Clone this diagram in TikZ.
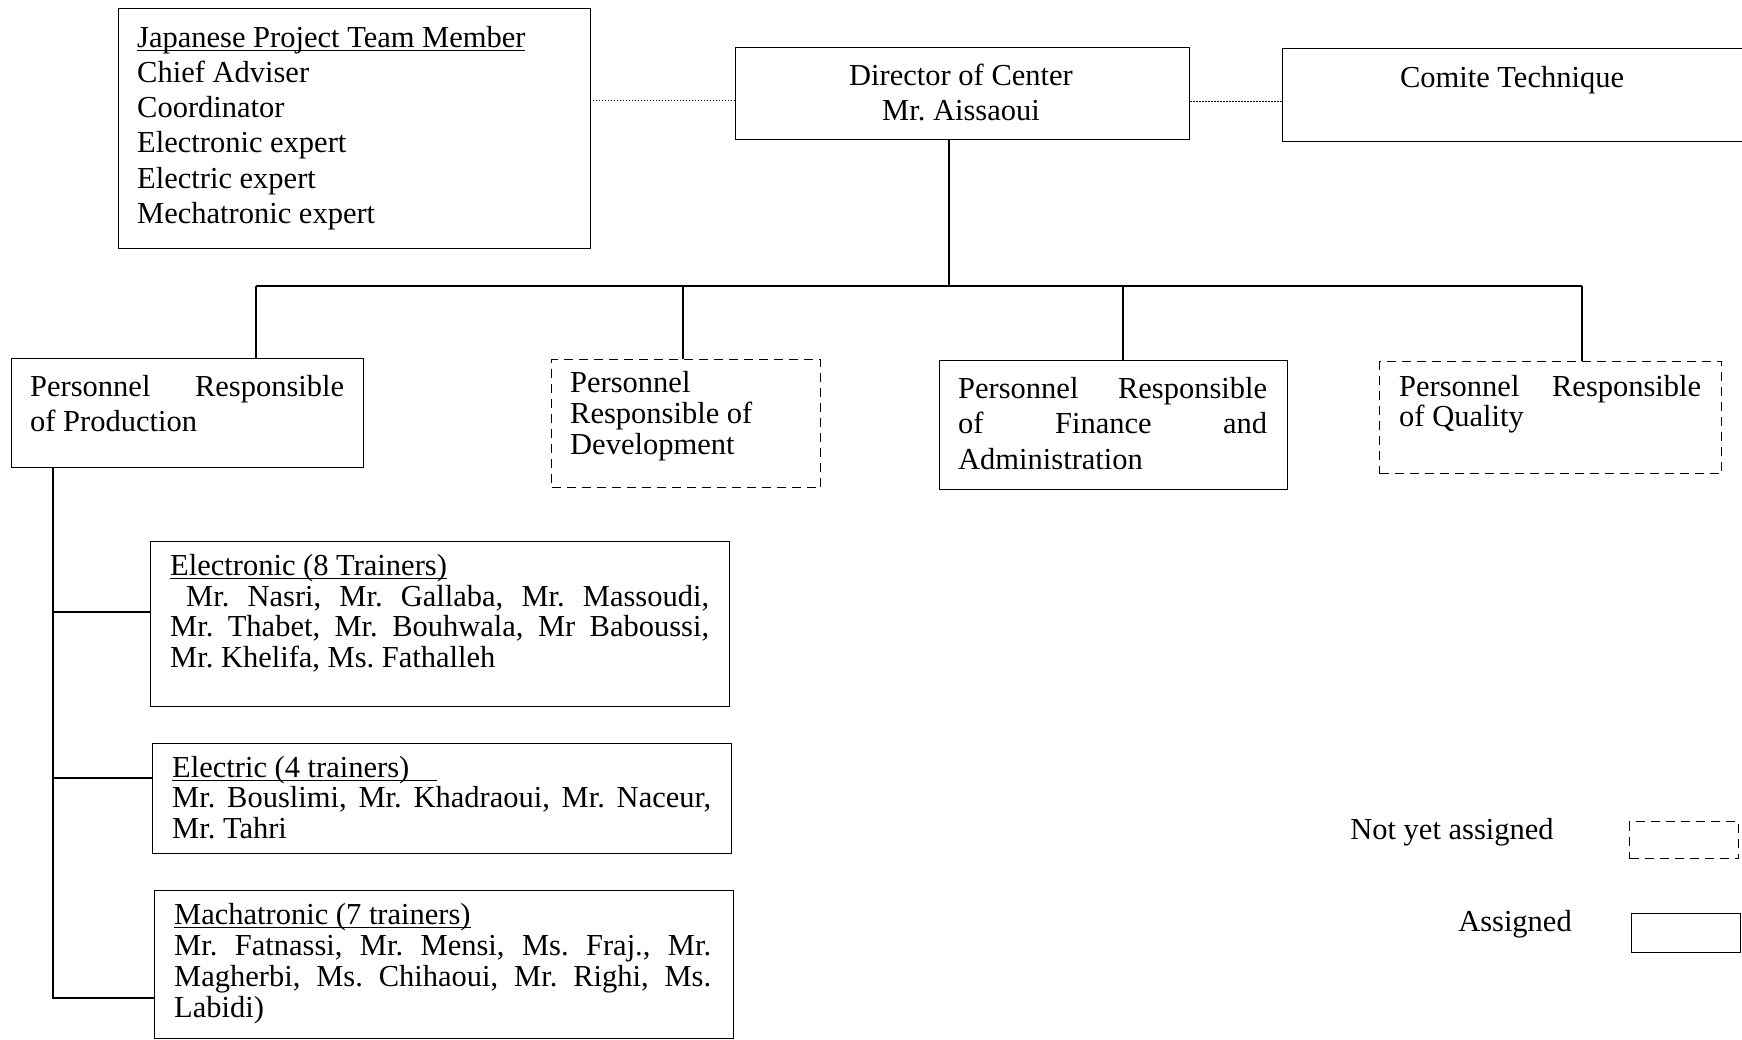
\documentclass[tikz,border=0pt]{standalone}
\usepackage{fontspec}
\setmainfont{Liberation Serif}
\frenchspacing
\newcommand\fsz[1]{\fontsize{30.5}{#1}\selectfont}
\newcommand\jl[2]{\makebox[#1pt][s]{#2}}
\newcommand\ulx[1]{\setbox0\hbox{#1}\rlap{\rule[-3.5pt]{\wd0}{1.2pt}}\box0}
\begin{document}
\begin{tikzpicture}[x=1pt,y=-1pt,
  box/.style={draw, line width=1.3pt, rectangle, inner sep=0pt, anchor=north west},
  dbox/.style={box, dash pattern=on 9pt off 6pt},
  txt/.style={inner sep=0pt, anchor=north west, align=left},
  link/.style={line width=1.3pt},
  dotlink/.style={line width=1.3pt, dash pattern=on 1.5pt off 1.5pt}]
\useasboundingbox (0,0) rectangle (1742,1040);

% boxes
\node[box, minimum width=472pt, minimum height=240pt] (jpn) at (118,8) {};
\node[box, minimum width=454pt, minimum height=92pt] (dir) at (735,47) {};
\node[box, minimum width=470pt, minimum height=93pt] (com) at (1282,48) {};
\node[box, minimum width=352pt, minimum height=109pt] (prod) at (11,358) {};
\node[dbox, minimum width=269pt, minimum height=128pt] (dev) at (551,359) {};
\node[box, minimum width=348pt, minimum height=129pt] (fin) at (939,360) {};
\node[dbox, minimum width=342pt, minimum height=112pt] (qual) at (1379,361) {};
\node[box, minimum width=579pt, minimum height=165pt] (etr) at (150,541) {};
\node[box, minimum width=579pt, minimum height=110pt] (elc) at (152,743) {};
\node[box, minimum width=579pt, minimum height=148pt] (mch) at (154,890) {};
\node[dbox, minimum width=109pt, minimum height=37pt] (leg1) at (1629,821) {};
\node[box, minimum width=109pt, minimum height=39pt] (leg2) at (1631,913) {};

% texts
\node[txt, font=\fsz{35.2}] (tjpn) at (137,26) {\ulx{Japanese Project Team Member}\\Chief Adviser\\Coordinator\\Electronic expert\\Electric expert\\Mechatronic expert};
\node[inner sep=0pt, anchor=north, align=center, font=\fsz{35}] (tdir) at (961,64) {Director of Center\\Mr. Aissaoui};
\node[inner sep=0pt, anchor=north, font=\fsz{35}] (tcom) at (1512,66) {Comite Technique};
\node[txt, font=\fsz{35}] (tprod) at (30,375) {\jl{314}{Personnel Responsible}\\of Production};
\node[txt, font=\fsz{31}] (tdev) at (570,371) {Personnel\\Responsible of\\Development};
\node[txt, font=\fsz{35.5}] (tfin) at (958,377) {\jl{309}{Personnel Responsible}\\\jl{309}{of Finance and}\\Administration};
\node[txt, font=\fsz{30}] (tqual) at (1399,375) {\jl{302}{Personnel Responsible}\\of Quality};
\node[txt, font=\fsz{30.7}] (tetr) at (170,554) {\ulx{Electronic (8 Trainers)}\\\hspace*{16pt}\jl{523}{Mr. Nasri, Mr. Gallaba, Mr. Massoudi,}\\\jl{539}{Mr. Thabet, Mr. Bouhwala, Mr Baboussi,}\\Mr. Khelifa, Ms. Fathalleh};
\node[txt, font=\fsz{30.5}] (telc) at (172,756) {\ulx{Electric (4 trainers)\hspace*{28pt}}\\\jl{539}{Mr. Bouslimi, Mr. Khadraoui, Mr. Naceur,}\\Mr. Tahri};
\node[txt, font=\fsz{31}] (tmch) at (174,903) {\ulx{Machatronic (7 trainers)}\\\jl{537}{Mr. Fatnassi, Mr. Mensi, Ms. Fraj., Mr.}\\\jl{537}{Magherbi, Ms. Chihaoui, Mr. Righi, Ms.}\\Labidi)};
\node[inner sep=0pt, anchor=base, font=\fsz{35}] (tleg1) at (1452,839) {Not yet assigned};
\node[inner sep=0pt, anchor=base, font=\fsz{35}] (tleg2) at (1515,931) {Assigned};

% dotted links
\draw[dotlink] ([yshift=-7pt]dir.west) -- ([yshift=-7pt]dir.west -| jpn.east);
\draw[dotlink] ([yshift=-8pt]dir.east) -- ([yshift=-8pt]dir.east -| com.west);

% tree
\coordinate (j) at (949,286);
\coordinate (b1) at (256,286);
\coordinate (b2) at (683,286);
\coordinate (b3) at (1123,286);
\coordinate (b4) at (1582,286);
\draw[link] (j |- dir.south) -- (j);
\draw[link] (b1) -- (b4);
\draw[link] (b1) -- (b1 |- prod.north);
\draw[link] (b2) -- (b2 |- dev.north);
\draw[link] (b3) -- (b3 |- fin.north);
\draw[link] (b4) -- (b4 |- qual.north);

\coordinate (v1) at (53,612);
\coordinate (v2) at (53,778);
\coordinate (v3) at (53,998);
\draw[link] (v3 |- prod.south) -- (v3) -- (v3 -| mch.west);
\draw[link] (v1) -- (v1 -| etr.west);
\draw[link] (v2) -- (v2 -| elc.west);
\end{tikzpicture}
\end{document}
